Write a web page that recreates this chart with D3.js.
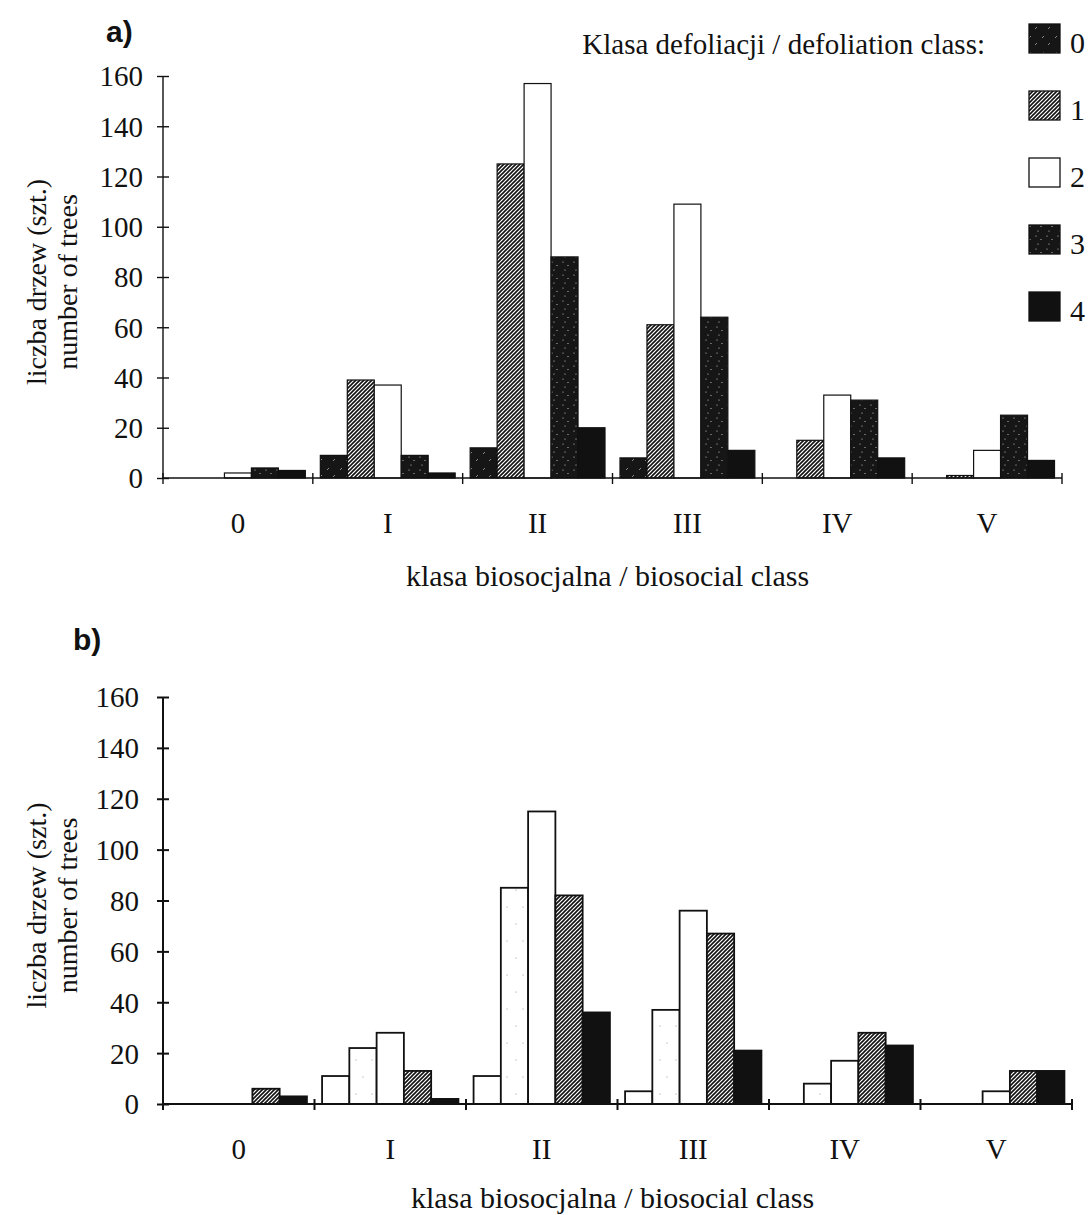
<!DOCTYPE html>
<html>
<head>
<meta charset="utf-8">
<script src="https://cdn.jsdelivr.net/npm/d3@7"></script>
<style>
  html, body { margin: 0; padding: 0; background: #fff; }
  svg { display: block; }
  .serif { font-family: "Liberation Serif", "Times New Roman", serif; fill: #111; }
  .panel-label { font-family: "Liberation Sans", Arial, sans-serif; font-weight: bold; fill: #111; }
</style>
</head>
<body>
<svg id="chart" width="1092" height="1215"></svg>
<script>
// ---------------- DATA ----------------
const groups = ["0", "I", "II", "III", "IV", "V"];       // biosocial class
const classes = ["0", "1", "2", "3", "4"];                // defoliation class
const yTicks = [0, 20, 40, 60, 80, 100, 120, 140, 160];

// panel a) – number of trees per defoliation class, for each biosocial class
const a_class0 = [0, 9, 12, 8, 0, 0];
const a_class1 = [0, 39, 125, 61, 15, 1];
const a_class2 = [2, 37, 157, 109, 33, 11];
const a_class3 = [4, 9, 88, 64, 31, 25];
const a_class4 = [3, 2, 20, 11, 8, 7];

// panel b)
const b_class0 = [0, 11, 11, 5, 0, 0];
const b_class1 = [0, 22, 85, 37, 8, 0];
const b_class2 = [0, 28, 115, 76, 17, 5];
const b_class3 = [6, 13, 82, 67, 28, 13];
const b_class4 = [3, 2, 36, 21, 23, 13];

const texts = {
  yTitle1: "liczba drzew (szt.)",
  yTitle2: "number of trees",
  xTitle: "klasa biosocjalna / biosocial class",
  legendTitle: "Klasa defoliacji / defoliation class:"
};

// ---------------- STYLES ----------------
const fillsA = ["url(#darkStreak)", "url(#hatch)", "#ffffff", "url(#darkDots)", "#111111"];
const fillsB = ["#ffffff", "url(#lightDots)", "#ffffff", "url(#hatch)", "#111111"];

const svg = d3.select("#chart");
const defs = svg.append("defs");

// hatch ////
const ph = defs.append("pattern").attr("id", "hatch").attr("patternUnits", "userSpaceOnUse")
  .attr("width", 4).attr("height", 4);
ph.append("rect").attr("width", 4).attr("height", 4).attr("fill", "#fff");
ph.append("path").attr("d", "M-1,1 L1,-1 M0,4 L4,0 M3,5 L5,3")
  .attr("stroke", "#111").attr("stroke-width", 1.6);

// dark with white streaks
const ps = defs.append("pattern").attr("id", "darkStreak").attr("patternUnits", "userSpaceOnUse")
  .attr("width", 13).attr("height", 16);
ps.append("rect").attr("width", 13).attr("height", 16).attr("fill", "#161616");
ps.append("path").attr("d", "M2,6 L4,4 M8,13 L10,11")
  .attr("stroke", "#bbb").attr("stroke-width", 0.7);

// dark with white dots
const pd = defs.append("pattern").attr("id", "darkDots").attr("patternUnits", "userSpaceOnUse")
  .attr("width", 11).attr("height", 13);
pd.append("rect").attr("width", 11).attr("height", 13).attr("fill", "#161616");
[[2, 2], [7, 5.5], [4, 10]].forEach(p =>
  pd.append("circle").attr("cx", p[0]).attr("cy", p[1]).attr("r", 0.6).attr("fill", "#d0d0d0"));

// light with sparse dots
const pl = defs.append("pattern").attr("id", "lightDots").attr("patternUnits", "userSpaceOnUse")
  .attr("width", 16).attr("height", 34);
pl.append("rect").attr("width", 16).attr("height", 34).attr("fill", "#fff");
[[4, 6], [11, 23]].forEach(p =>
  pl.append("circle").attr("cx", p[0]).attr("cy", p[1]).attr("r", 0.55).attr("fill", "#888"));

// ---------------- PANEL ----------------
function drawPanel(cfg) {
  const g = svg.append("g");
  const series = cfg.series;
  const x0 = d3.scaleBand().domain(groups).range([cfg.x0, cfg.x1])
    .paddingInner(0.1).paddingOuter(0.05);
  const x1 = d3.scaleBand().domain(classes).range([0, x0.bandwidth()]);
  const y = d3.scaleLinear().domain([0, 160]).range([cfg.yBase, cfg.yTop]);

  // bars
  classes.forEach((c, ci) => {
    g.append("g").selectAll("rect")
      .data(series[ci].map((v, gi) => ({ v, gi })).filter(d => d.v > 0))
      .join("rect")
      .attr("x", d => x0(groups[d.gi]) + x1(c))
      .attr("y", d => y(d.v))
      .attr("width", x1.bandwidth())
      .attr("height", d => y(0) - y(d.v))
      .attr("fill", cfg.fills[ci])
      .attr("stroke", "#111")
      .attr("stroke-width", cfg.barStroke);
  });

  // y axis
  const ya = d3.axisLeft(y).tickValues(yTicks).tickSize(0).tickPadding(0).tickFormat(d3.format("d"));
  const yg = g.append("g").attr("transform", `translate(${cfg.x0},0)`).call(ya);
  yg.select(".domain").remove();
  yg.selectAll(".tick text")
    .attr("class", "serif")
    .attr("x", cfg.yLabelX - cfg.x0)
    .attr("dy", "0.34em")
    .attr("text-anchor", "end")
    .style("font-size", "29px");
  yg.selectAll(".tick").append("line")
    .attr("x1", -6).attr("x2", 6).attr("stroke", "#111").attr("stroke-width", cfg.axisStroke);
  g.append("line").attr("x1", cfg.x0).attr("x2", cfg.x0).attr("y1", y(160)).attr("y2", y(0))
    .attr("stroke", "#111").attr("stroke-width", cfg.axisStroke);

  // x axis
  g.append("line").attr("x1", cfg.x0).attr("x2", cfg.x1).attr("y1", y(0)).attr("y2", y(0))
    .attr("stroke", "#111").attr("stroke-width", cfg.axisStroke);
  const step = x0.step();
  const bounds = groups.map((gr, i) => x0(gr) - step * x0.paddingInner() / 2)
    .concat([cfg.x1]);
  g.append("g").selectAll("line").data(bounds).join("line")
    .attr("x1", d => d).attr("x2", d => d)
    .attr("y1", y(0) - 5).attr("y2", y(0) + 6)
    .attr("stroke", "#111").attr("stroke-width", cfg.axisStroke);
  g.append("g").selectAll("text").data(groups).join("text")
    .attr("class", "serif")
    .attr("x", d => x0(d) + x0.bandwidth() / 2)
    .attr("y", cfg.xLabelY)
    .attr("text-anchor", "middle")
    .style("font-size", "29px")
    .text(d => d);

  // titles
  g.append("text").attr("class", "serif")
    .attr("x", (cfg.x0 + cfg.x1) / 2 - 5).attr("y", cfg.xTitleY)
    .attr("text-anchor", "middle").style("font-size", "30px").text(texts.xTitle);
  const ymid = (cfg.yBase + cfg.yTop) / 2 + 5;
  g.append("text").attr("class", "serif")
    .attr("transform", `translate(46,${ymid}) rotate(-90)`)
    .attr("text-anchor", "middle").style("font-size", "28px").text(texts.yTitle1);
  g.append("text").attr("class", "serif")
    .attr("transform", `translate(77,${ymid}) rotate(-90)`)
    .attr("text-anchor", "middle").style("font-size", "28px").text(texts.yTitle2);

  g.append("text").attr("class", "panel-label")
    .attr("x", cfg.labelX).attr("y", cfg.labelY)
    .style("font-size", "30px").text(cfg.label);
}

drawPanel({
  series: [a_class0, a_class1, a_class2, a_class3, a_class4],
  fills: fillsA, x0: 163, x1: 1062, yBase: 478, yTop: 76,
  yLabelX: 143, xLabelY: 533, xTitleY: 586,
  barStroke: 1.2, axisStroke: 1.4, label: "a)", labelX: 106, labelY: 42
});
drawPanel({
  series: [b_class0, b_class1, b_class2, b_class3, b_class4],
  fills: fillsB, x0: 163, x1: 1072, yBase: 1104, yTop: 697,
  yLabelX: 139, xLabelY: 1159, xTitleY: 1208,
  barStroke: 1.8, axisStroke: 2, label: "b)", labelX: 73, labelY: 650
});

// ---------------- LEGEND ----------------
const legendFills = fillsA;
const lg = svg.append("g");
lg.append("text").attr("class", "serif").attr("x", 985).attr("y", 54)
  .attr("text-anchor", "end").style("font-size", "29px").text(texts.legendTitle);
const ly = d3.scalePoint().domain(classes).range([24, 292]);
const items = lg.selectAll("g.item").data(classes).join("g").attr("class", "item");
items.append("rect")
  .attr("x", 1029).attr("y", d => ly(d)).attr("width", 31).attr("height", 29)
  .attr("fill", (d, i) => legendFills[i]).attr("stroke", "#111").attr("stroke-width", 1.3);
items.append("text").attr("class", "serif")
  .attr("x", 1070).attr("y", d => ly(d) + 29)
  .style("font-size", "30px").text(d => d);
</script>
</body>
</html>
